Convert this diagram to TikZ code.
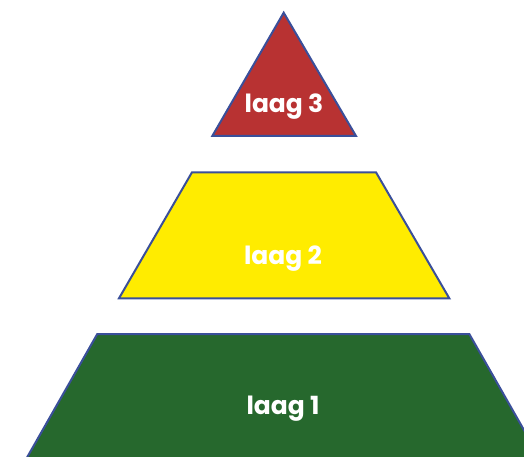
\documentclass[tikz,border=0pt]{standalone}
\usepackage{fontspec}
\setmainfont{Poppins}
\definecolor{edge}{HTML}{3A4F9A}
\definecolor{redfill}{HTML}{B83232}
\definecolor{yellowfill}{HTML}{FFEC00}
\definecolor{greenfill}{HTML}{26682D}
\tikzset{
  layer/.style={draw=edge, line width=2pt, line join=miter},
  lbl/.style={text=white, font=\bfseries\fontsize{25}{28}\selectfont, inner sep=0pt}
}
\begin{document}
\begin{tikzpicture}[x=1pt,y=-1pt]
\useasboundingbox (0,0) rectangle (524,457);
\clip (0,0) rectangle (524,457);
% layer 3
\draw[layer, fill=redfill] (283.7,12.7) -- (356,136) -- (212.3,136) -- cycle;
% layer 2
\draw[layer, fill=yellowfill] (192,172.3) -- (376,172.3) -- (449.3,298.3) -- (119,298.3) -- cycle;
% layer 1
\draw[layer, fill=greenfill] (97.3,334) -- (469.3,334) -- (545,467) -- (21.6,467) -- cycle;
\node[lbl] (l3) at (284,107) {laag 3};
\node[lbl] (l2) at (283,259) {laag 2};
\node[lbl] (l1) at (283,409) {laag 1};
\end{tikzpicture}
\end{document}
